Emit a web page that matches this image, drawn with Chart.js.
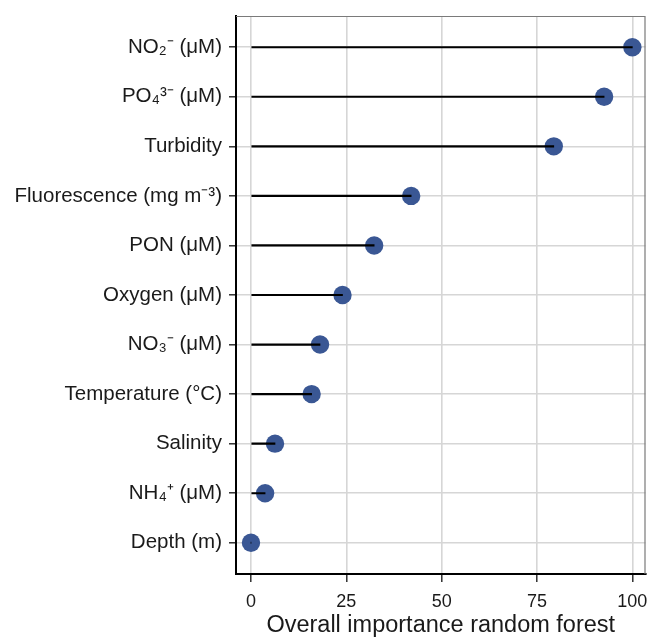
<!DOCTYPE html>
<html><head><meta charset="utf-8">
<script src="https://cdn.jsdelivr.net/npm/chart.js@4/dist/chart.umd.min.js"></script>
<style>html,body{margin:0;padding:0;background:#fff}#wrap{width:651px;height:641px}</style>
</head><body><div id="wrap"><canvas id="c" width="651" height="641"></canvas></div>
<script>
const categories = ['NO₂⁻ (μM)', 'PO₄³⁻ (μM)', 'Turbidity', 'Fluorescence (mg m⁻³)', 'PON (μM)', 'Oxygen (μM)', 'NO₃⁻ (μM)', 'Temperature (°C)', 'Salinity', 'NH₄⁺ (μM)', 'Depth (m)'];
const importance = [100, 92.6, 79.4, 42.0, 32.3, 24.0, 18.1, 15.9, 6.3, 3.7, 0];
const xTicks = [0, 25, 50, 75, 100];
const xTitle = 'Overall importance random forest';

const FONT = "'Liberation Sans', Arial, Helvetica, sans-serif";
const TEXT = '#1a1a1a';
const points = importance.map((v, i) => ({x: v, y: i}));
const noPad = () => ({left: 0, top: 0, right: 0, bottom: 0});

const panelBorder = {
  id: 'panelBorder',
  afterDraw(chart) {
    const {ctx, chartArea: a} = chart;
    ctx.save();
    ctx.strokeStyle = '#7a7a7a';
    ctx.lineWidth = 1.2;
    ctx.beginPath();
    ctx.moveTo(a.left, a.top + 0.5);
    ctx.lineTo(a.right, a.top + 0.5);
    ctx.moveTo(a.right - 0.5, a.top);
    ctx.lineTo(a.right - 0.5, a.bottom);
    ctx.stroke();
    ctx.restore();
  }
};

new Chart(document.getElementById('c'), {
  type: 'bar',
  data: {
    datasets: [
      {
        type: 'bar',
        indexAxis: 'y',
        data: points,
        backgroundColor: '#000',
        borderWidth: 0,
        barThickness: 1.5,
        order: 0
      },
      {
        type: 'scatter',
        data: points,
        pointRadius: 9.2,
        pointHoverRadius: 9.2,
        pointBackgroundColor: '#3A5794',
        pointBorderWidth: 0,
        showLine: false,
        order: 1
      }
    ]
  },
  options: {
    indexAxis: 'y',
    responsive: false,
    devicePixelRatio: 1,
    animation: false,
    layout: {autoPadding: false, padding: {top: 16, right: 5.5, left: 0, bottom: 0}},
    plugins: {legend: {display: false}, tooltip: {enabled: false}},
    scales: {
      x: {
        type: 'linear',
        position: 'bottom',
        offset: false,
        min: -3.93,
        max: 103.45,
        afterBuildTicks: s => { s.ticks = xTicks.map(v => ({value: v})); },
        afterFit: s => { s.height = 67; s.paddingLeft = 0; s.paddingRight = 0; s.getPadding = noPad; },
        grid: {offset: false, color: '#d6d6d6', lineWidth: 1.6, tickColor: '#222', tickLength: 8, tickWidth: 1.4},
        border: {display: true, color: '#000', width: 2},
        ticks: {font: {family: FONT, size: 18}, color: TEXT, padding: 9, maxRotation: 0},
        title: {display: true, text: xTitle, font: {family: FONT, size: 23.5}, color: TEXT, padding: {top: 0, bottom: 1}}
      },
      y: {
        type: 'linear',
        position: 'left',
        offset: false,
        reverse: true,
        min: -0.63,
        max: 10.63,
        afterBuildTicks: s => { s.ticks = categories.map((c, i) => ({value: i})); },
        afterFit: s => { s.width = 236; s.paddingTop = 0; s.paddingBottom = 0; s.getPadding = noPad; },
        grid: {offset: false, color: '#d6d6d6', lineWidth: 1.6, tickColor: '#222', tickLength: 7, tickWidth: 1.4},
        border: {display: true, color: '#000', width: 2},
        ticks: {
          font: {family: FONT, size: 20.5}, color: TEXT, padding: 7, autoSkip: false,
          callback: v => categories[v]
        }
      }
    }
  },
  plugins: [panelBorder]
});
</script>
</body></html>
